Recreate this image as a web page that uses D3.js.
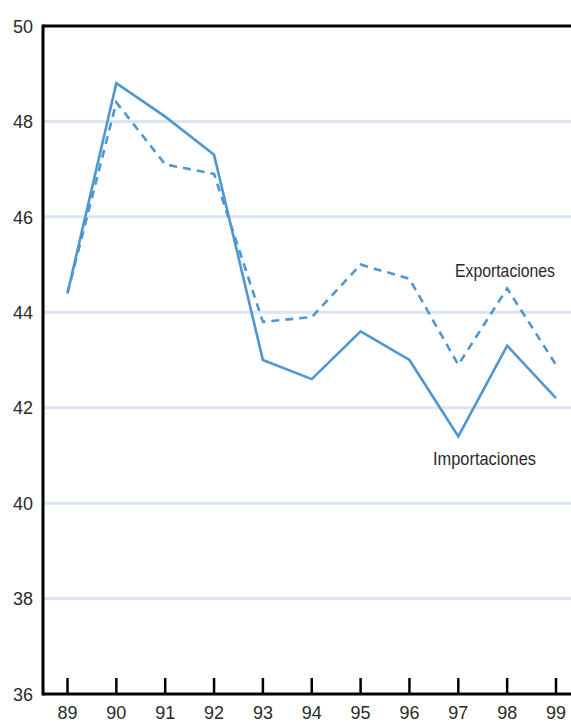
<!DOCTYPE html>
<html>
<head>
<meta charset="utf-8">
<script src="https://cdn.jsdelivr.net/npm/d3@7"></script>
<style>
  body { margin: 0; background: #fff; }
  text { font-family: "Liberation Sans Narrow", "Liberation Sans", sans-serif; fill: #2a2a2a; }
</style>
</head>
<body>
<div id="vis"></div>
<script>
// years (two digit labels)
const years = ["89","90","91","92","93","94","95","96","97","98","99"];
const importaciones = [44.4, 48.8, 48.1, 47.3, 43.0, 42.6, 43.6, 43.0, 41.4, 43.3, 42.2];
const exportaciones = [44.4, 48.4, 47.1, 46.9, 43.8, 43.9, 45.0, 44.7, 42.9, 44.5, 42.9];
const yTicks = [36, 38, 40, 42, 44, 46, 48, 50];

const width = 571, height = 724;
const plotLeft = 43, plotTop = 26, plotBottom = 694;
const blue = "#4f97d0";

const svg = d3.select("#vis").append("svg")
  .attr("width", width)
  .attr("height", height);

const x = d3.scalePoint()
  .domain(years)
  .range([67.5, 556]);

const y = d3.scaleLinear()
  .domain([36, 50])
  .range([plotBottom, plotTop]);

// grid lines
svg.append("g")
  .selectAll("line")
  .data(yTicks.filter(d => d > 36 && d < 50))
  .enter()
  .append("line")
  .attr("x1", plotLeft)
  .attr("x2", width)
  .attr("y1", d => y(d))
  .attr("y2", d => y(d))
  .attr("stroke", "#dbe5f1")
  .attr("stroke-width", 3);

// y labels
svg.append("g")
  .selectAll("text")
  .data(yTicks)
  .enter()
  .append("text")
  .attr("x", 13)
  .attr("y", d => y(d))
  .attr("dy", "0.35em")
  .attr("font-size", 19)
  .attr("textLength", 20)
  .attr("lengthAdjust", "spacingAndGlyphs")
  .text(d => d);

// lines
const line = d3.line()
  .x((d, i) => x(years[i]))
  .y(d => y(d));

svg.append("path")
  .datum(exportaciones)
  .attr("d", line)
  .attr("fill", "none")
  .attr("stroke", blue)
  .attr("stroke-width", 2.6)
  .attr("stroke-dasharray", "8,6");

svg.append("path")
  .datum(importaciones)
  .attr("d", line)
  .attr("fill", "none")
  .attr("stroke", blue)
  .attr("stroke-width", 2.6);

// frame: top, left, bottom
svg.append("line")
  .attr("x1", plotLeft).attr("x2", width)
  .attr("y1", plotTop).attr("y2", plotTop)
  .attr("stroke", "#000").attr("stroke-width", 3);
svg.append("line")
  .attr("x1", plotLeft).attr("x2", plotLeft)
  .attr("y1", plotTop - 1.5).attr("y2", plotBottom + 1.5)
  .attr("stroke", "#000").attr("stroke-width", 3);
svg.append("line")
  .attr("x1", plotLeft).attr("x2", width)
  .attr("y1", plotBottom).attr("y2", plotBottom)
  .attr("stroke", "#000").attr("stroke-width", 3);

// x ticks (inward) and labels
const xt = svg.append("g");
xt.selectAll("line")
  .data(years)
  .enter()
  .append("line")
  .attr("x1", d => x(d)).attr("x2", d => x(d))
  .attr("y1", plotBottom).attr("y2", plotBottom - 16)
  .attr("stroke", "#000").attr("stroke-width", 2.5);
xt.selectAll("text")
  .data(years)
  .enter()
  .append("text")
  .attr("x", d => x(d) - 10)
  .attr("y", 719)
  .attr("font-size", 19)
  .attr("textLength", 20)
  .attr("lengthAdjust", "spacingAndGlyphs")
  .text(d => d);

// series labels
svg.append("text")
  .attr("x", 455).attr("y", 277)
  .attr("font-size", 18.5)
  .attr("textLength", 100)
  .attr("lengthAdjust", "spacingAndGlyphs")
  .text("Exportaciones");
svg.append("text")
  .attr("x", 433).attr("y", 465)
  .attr("font-size", 18.5)
  .attr("textLength", 103)
  .attr("lengthAdjust", "spacingAndGlyphs")
  .text("Importaciones");
</script>
</body>
</html>
